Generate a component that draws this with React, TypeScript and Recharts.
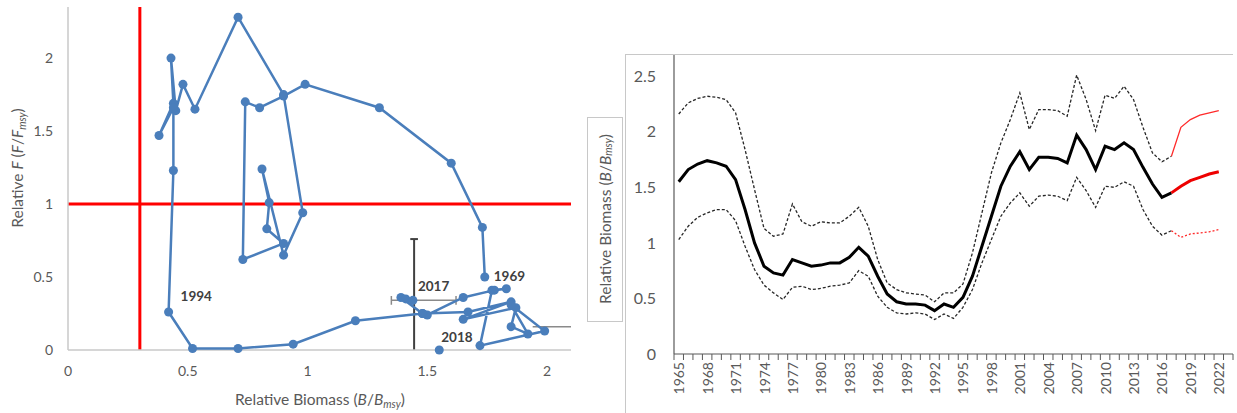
import React from 'react';
import {
  ScatterChart, Scatter, XAxis, YAxis, ZAxis, ReferenceLine, Label,
  LineChart, Line,
} from 'recharts';

// ---------- Left panel: Kobe trajectory ----------
const kobeYears = [
  1969, 1970, 1971, 1972, 1973, 1974, 1975, 1976, 1977, 1978,
  1979, 1980, 1981, 1982, 1983, 1984, 1985, 1986, 1987, 1988,
  1989, 1990, 1991, 1992, 1993, 1994, 1995, 1996, 1997, 1998,
  1999, 2000, 2001, 2002, 2003, 2004, 2005, 2006, 2007, 2008,
  2009, 2010, 2011, 2012, 2013, 2014, 2015, 2016, 2017,
];
const kobeBiomass = [
  1.74, 1.73, 1.60, 1.30, 0.99, 0.90, 0.80, 0.74, 0.73, 0.90,
  0.83, 0.84, 0.81, 0.90, 0.98, 0.90, 0.71, 0.53, 0.48, 0.45,
  0.43, 0.44, 0.38, 0.44, 0.44, 0.42, 0.52, 0.71, 0.94, 1.20,
  1.48, 1.67, 1.85, 1.65, 1.87, 1.85, 1.92, 1.85, 1.99, 1.72,
  1.77, 1.83, 1.78, 1.65, 1.50, 1.48, 1.39, 1.41, 1.44,
];
const kobeF = [
  0.50, 0.84, 1.28, 1.66, 1.82, 1.74, 1.66, 1.70, 0.62, 0.73,
  0.83, 1.01, 1.24, 0.65, 0.94, 1.75, 2.28, 1.65, 1.82, 1.64,
  2.00, 1.69, 1.47, 1.66, 1.23, 0.26, 0.01, 0.01, 0.04, 0.20,
  0.25, 0.26, 0.33, 0.21, 0.29, 0.16, 0.11, 0.31, 0.13, 0.03,
  0.41, 0.42, 0.41, 0.36, 0.24, 0.25, 0.36, 0.35, 0.34,
];
const finalYear = 2018;
const finalBiomass = 1.55;
const finalF = 0.0;
const labelledYears = [1969, 1994, 2017, 2018];

const est2017 = { b: 1.445, bLow: 1.35, bHigh: 1.62, f: 0.34, fLow: 0, fHigh: 0.76 };
const extraBar = { f: 0.16, bFrom: 1.94, bTo: 2.1 };

const bTicks = [0, 0.5, 1, 1.5, 2];
const fTicks = [0, 0.5, 1, 1.5, 2];
const limitB = 0.3;
const limitF = 1;

// ---------- Right panel: relative biomass time series ----------
const years = [
  1965, 1966, 1967, 1968, 1969, 1970, 1971, 1972, 1973, 1974,
  1975, 1976, 1977, 1978, 1979, 1980, 1981, 1982, 1983, 1984,
  1985, 1986, 1987, 1988, 1989, 1990, 1991, 1992, 1993, 1994,
  1995, 1996, 1997, 1998, 1999, 2000, 2001, 2002, 2003, 2004,
  2005, 2006, 2007, 2008, 2009, 2010, 2011, 2012, 2013, 2014,
  2015, 2016, 2017, 2018, 2019, 2020, 2021, 2022,
];
const yearLabels = [
  1965, 1968, 1971, 1974, 1977, 1980, 1983, 1986, 1989, 1992,
  1995, 1998, 2001, 2004, 2007, 2010, 2013, 2016, 2019, 2022,
];
// 1965-2017
const meanHist = [
  1.55, 1.66, 1.71, 1.74, 1.72, 1.69, 1.57, 1.30, 1.00, 0.79,
  0.73, 0.71, 0.85, 0.82, 0.79, 0.80, 0.82, 0.82, 0.87, 0.96,
  0.88, 0.70, 0.54, 0.47, 0.45, 0.45, 0.44, 0.39, 0.45, 0.42,
  0.51, 0.70, 0.97, 1.24, 1.51, 1.69, 1.82, 1.66, 1.77, 1.77,
  1.76, 1.72, 1.97, 1.84, 1.66, 1.87, 1.84, 1.90, 1.84, 1.68,
  1.53, 1.41, 1.45,
];
const upperHist = [
  2.16, 2.26, 2.30, 2.32, 2.31, 2.29, 2.17, 1.84, 1.48, 1.13,
  1.06, 1.08, 1.35, 1.19, 1.15, 1.19, 1.18, 1.18, 1.24, 1.32,
  1.15, 0.85, 0.64, 0.58, 0.55, 0.54, 0.53, 0.47, 0.55, 0.55,
  0.63, 0.91, 1.27, 1.63, 1.90, 2.11, 2.35, 2.02, 2.20, 2.20,
  2.19, 2.14, 2.51, 2.29, 2.01, 2.33, 2.30, 2.41, 2.29, 2.04,
  1.81, 1.73, 1.78,
];
const lowerHist = [
  1.03, 1.15, 1.23, 1.27, 1.30, 1.30, 1.20, 0.97, 0.76, 0.62,
  0.55, 0.49, 0.60, 0.61, 0.58, 0.59, 0.61, 0.62, 0.64, 0.75,
  0.70, 0.52, 0.42, 0.37, 0.36, 0.37, 0.36, 0.31, 0.36, 0.32,
  0.42, 0.58, 0.82, 1.03, 1.24, 1.36, 1.45, 1.33, 1.42, 1.43,
  1.42, 1.38, 1.59, 1.47, 1.32, 1.51, 1.50, 1.55, 1.51, 1.30,
  1.15, 1.07, 1.11,
];
// 2017-2022 projections
const projStartYear = 2017;
const meanProj = [1.45, 1.51, 1.56, 1.59, 1.62, 1.64];
const upperProj = [1.78, 2.04, 2.11, 2.15, 2.17, 2.19];
const lowerProj = [1.11, 1.05, 1.08, 1.09, 1.10, 1.12];
const bioTicks = [0, 0.5, 1, 1.5, 2, 2.5];

const kobeData = kobeYears.map((year, i) => ({ year, b: kobeBiomass[i], f: kobeF[i] }));
const finalData = [{ year: finalYear, b: finalBiomass, f: finalF }];
const labelData = [...kobeData, ...finalData].filter((d) => labelledYears.includes(d.year));

const projIdx = years.indexOf(projStartYear);
const seriesData = years.map((year, i) => ({
  year,
  mean: i < meanHist.length ? meanHist[i] : null,
  upper: i < upperHist.length ? upperHist[i] : null,
  lower: i < lowerHist.length ? lowerHist[i] : null,
  meanP: i >= projIdx ? meanProj[i - projIdx] : null,
  upperP: i >= projIdx ? upperProj[i - projIdx] : null,
  lowerP: i >= projIdx ? lowerProj[i - projIdx] : null,
}));
const boundaryTicks = [...years.map((y) => y - 0.5), years[years.length - 1] + 0.5, years[years.length - 1] + 1.5];

const BLUE = '#4a7ebb';
const GREY_TXT = '#595959';
const FONT = 'Lato, "Open Sans", sans-serif';

const labelOffsets: Record<number, [number, number]> = {
  1969: [9, -1],
  1994: [12, -16],
  2017: [5, -14],
  2018: [2, -13],
};

const YearTick = (props: any) => {
  const { x, y, payload } = props;
  return (
    <text
      x={x}
      y={y}
      transform={`rotate(-90 ${x} ${y})`}
      textAnchor="end"
      dominantBaseline="central"
      fontSize={14}
      fill={GREY_TXT}
      fontFamily={FONT}
    >
      {payload.value}
    </text>
  );
};

export default function App() {
  return (
    <div style={{ position: 'absolute', left: 0, top: 0, width: 1237, height: 413, background: '#fff', fontFamily: FONT }}>
      <div style={{ position: 'absolute', left: 0, top: 0 }}>
        <ScatterChart width={580} height={413} margin={{ top: 7, right: 9, left: 0, bottom: 0 }}>
          <XAxis
            type="number"
            dataKey="b"
            domain={[0, 2.1]}
            ticks={bTicks}
            tickFormatter={(v: number) => String(v)}
            axisLine={{ stroke: '#c8c8c8', strokeWidth: 1.5 }}
            tickLine={false}
            tickSize={0}
            tickMargin={16}
            height={63}
            tick={{ fontSize: 14, fill: GREY_TXT }}
          >
            <Label
              content={() => (
                <text x={320} y={405} textAnchor="middle" fontSize={15.5} fill={GREY_TXT}>
                  Relative Biomass (<tspan fontStyle="italic">B</tspan>/<tspan fontStyle="italic">B</tspan>
                  <tspan fontStyle="italic" fontSize={10.5} dy={3}>msy</tspan>
                  <tspan dy={-3}>)</tspan>
                </text>
              )}
            />
          </XAxis>
          <YAxis
            type="number"
            dataKey="f"
            domain={[0, 2.35]}
            ticks={fTicks}
            tickFormatter={(v: number) => String(v)}
            axisLine={{ stroke: '#c8c8c8', strokeWidth: 1.5 }}
            tickLine={false}
            tickSize={0}
            tickMargin={15}
            width={68}
            tick={{ fontSize: 14, fill: GREY_TXT }}
          >
            <Label
              content={() => (
                <text x={23} y={168} transform="rotate(-90 23 168)" textAnchor="middle" fontSize={15.5} fill={GREY_TXT}>
                  Relative <tspan fontStyle="italic">F</tspan> (<tspan fontStyle="italic">F</tspan>/<tspan fontStyle="italic">F</tspan>
                  <tspan fontStyle="italic" fontSize={10.5} dy={3}>msy</tspan>
                  <tspan dy={-3}>)</tspan>
                </text>
              )}
            />
          </YAxis>
          <ZAxis range={[80, 80]} />
          <ReferenceLine x={limitB} stroke="#ff0000" strokeWidth={3} />
          <ReferenceLine y={limitF} stroke="#ff0000" strokeWidth={3} />
          <ReferenceLine
            segment={[{ x: est2017.b, y: est2017.fLow }, { x: est2017.b, y: est2017.fHigh }]}
            stroke="#404040"
            strokeWidth={2}
          />
          <ReferenceLine
            segment={[{ x: est2017.b - 0.016, y: est2017.fHigh }, { x: est2017.b + 0.016, y: est2017.fHigh }]}
            stroke="#404040"
            strokeWidth={2}
          />
          <ReferenceLine
            segment={[{ x: est2017.bLow, y: est2017.f }, { x: est2017.bHigh, y: est2017.f }]}
            stroke="#8a8a8a"
            strokeWidth={1.5}
          />
          <ReferenceLine
            segment={[{ x: est2017.bLow, y: est2017.f - 0.03 }, { x: est2017.bLow, y: est2017.f + 0.03 }]}
            stroke="#8a8a8a"
            strokeWidth={1.5}
          />
          <ReferenceLine
            segment={[{ x: est2017.bHigh, y: est2017.f - 0.03 }, { x: est2017.bHigh, y: est2017.f + 0.03 }]}
            stroke="#8a8a8a"
            strokeWidth={1.5}
          />
          <ReferenceLine
            segment={[{ x: extraBar.bFrom, y: extraBar.f }, { x: extraBar.bTo, y: extraBar.f }]}
            stroke="#8a8a8a"
            strokeWidth={1.5}
          />
          <Scatter
            data={kobeData}
            fill={BLUE}
            line={{ stroke: BLUE, strokeWidth: 2.5 }}
            lineJointType="linear"
            isAnimationActive={false}
          />
          <Scatter data={finalData} fill={BLUE} isAnimationActive={false} />
          <Scatter
            data={labelData}
            isAnimationActive={false}
            shape={(p: any) => {
              const off = labelOffsets[p.payload.year] || [8, -8];
              return (
                <text
                  x={p.cx + off[0]}
                  y={p.cy + off[1]}
                  dominantBaseline="central"
                  fontSize={13.5}
                  fontWeight={700}
                  fill="#404040"
                >
                  {p.payload.year}
                </text>
              );
            }}
          />
        </ScatterChart>
      </div>

      <div style={{ position: 'absolute', left: 580, top: 0 }}>
        <LineChart width={657} height={413} data={seriesData} margin={{ top: 54, right: 4, left: 0, bottom: 0 }}>
          <XAxis
            xAxisId="a"
            type="number"
            dataKey="year"
            domain={[1964.5, 2023.5]}
            ticks={boundaryTicks}
            tickFormatter={() => ''}
            axisLine={{ stroke: '#595959', strokeWidth: 1.2 }}
            tickLine={{ stroke: '#595959' }}
            tickSize={6}
            height={8}
          />
          <XAxis
            xAxisId="b"
            type="number"
            dataKey="year"
            domain={[1964.5, 2023.5]}
            ticks={yearLabels}
            axisLine={false}
            tickLine={false}
            tickSize={0}
            tickMargin={0}
            height={51}
            tick={<YearTick />}
            interval={0}
          />
          <YAxis
            type="number"
            domain={[0, 2.7]}
            ticks={bioTicks}
            tickFormatter={(v: number) => String(v)}
            axisLine={{ stroke: '#595959', strokeWidth: 1.2 }}
            tickLine={false}
            tickSize={0}
            tickMargin={18}
            width={94}
            tick={{ fontSize: 16, fill: GREY_TXT }}
          >
            <Label
              content={() => (
                <text x={25} y={219} transform="rotate(-90 25 219)" textAnchor="middle" dominantBaseline="central" fontSize={15.5} fill={GREY_TXT}>
                  Relative Biomass (<tspan fontStyle="italic">B</tspan>/<tspan fontStyle="italic">B</tspan>
                  <tspan fontStyle="italic" fontSize={10.5} dy={3}>msy</tspan>
                  <tspan dy={-3}>)</tspan>
                </text>
              )}
            />
          </YAxis>
          <Line xAxisId="b" dataKey="mean" stroke="none" dot={false} activeDot={false} isAnimationActive={false} legendType="none" />
          <Line xAxisId="a" type="linear" dataKey="upper" stroke="#262626" strokeWidth={1.3} strokeDasharray="3 2" dot={false} isAnimationActive={false} />
          <Line xAxisId="a" type="linear" dataKey="lower" stroke="#262626" strokeWidth={1.3} strokeDasharray="3 2" dot={false} isAnimationActive={false} />
          <Line xAxisId="a" type="linear" dataKey="upperP" stroke="#ff2a2a" strokeWidth={1.3} dot={false} isAnimationActive={false} />
          <Line xAxisId="a" type="linear" dataKey="lowerP" stroke="#ff2a2a" strokeWidth={1.3} strokeDasharray="2 2" dot={false} isAnimationActive={false} />
          <Line xAxisId="a" type="linear" dataKey="mean" stroke="#000" strokeWidth={3} dot={false} isAnimationActive={false} />
          <Line xAxisId="a" type="linear" dataKey="meanP" stroke="#ee0000" strokeWidth={3} dot={false} isAnimationActive={false} />
        </LineChart>
      </div>

      {/* chart frame and y-label box of right panel */}
      <div style={{ position: 'absolute', left: 625, top: 54, width: 608, height: 1, background: '#c8c8c8' }} />
      <div style={{ position: 'absolute', left: 625, top: 54, width: 1, height: 359, background: '#c8c8c8' }} />
      <div style={{ position: 'absolute', left: 587, top: 117, width: 36, height: 205, border: '1px solid #c8c8c8', boxSizing: 'border-box' }} />
    </div>
  );
}
